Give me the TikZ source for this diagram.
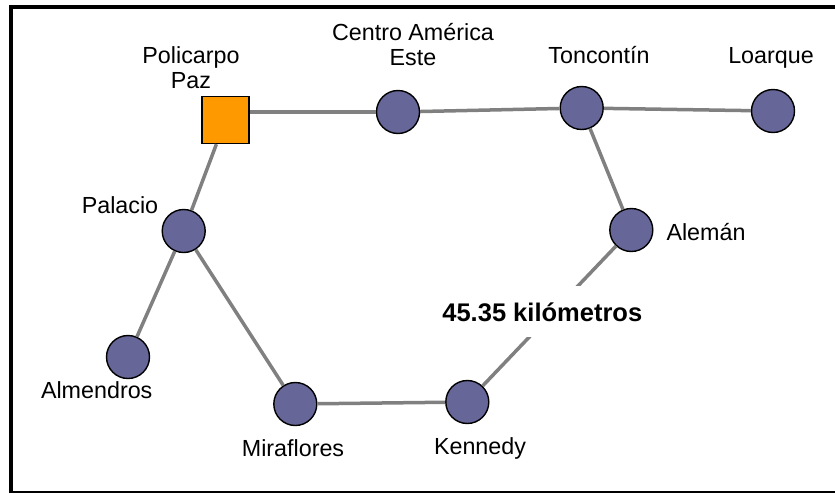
\documentclass[tikz,border=0pt]{standalone}
\usepackage{fontspec}
\setmainfont{Liberation Sans}
\usepackage{xcolor}
\usetikzlibrary{positioning}
\definecolor{StopBlue}{RGB}{102,102,153}
\definecolor{StopOrange}{RGB}{255,153,0}
\tikzset{%
	roundnode/.style={circle, draw=black, line width=1.4pt, fill=StopBlue, minimum size=43pt, inner sep=0pt},
	squarenode/.style={rectangle, draw=black, line width=1.4pt, fill=StopOrange, minimum size=47pt, inner sep=0pt},
	pt/.style={draw=gray, line width=3.5pt},
	lbl/.style={font=\fontsize{23.3}{25}\selectfont, inner sep=0pt, align=center, anchor=base},
	distlbl/.style={font=\bfseries\fontsize{25.5}{28}\selectfont, fill=white, inner xsep=4pt, inner ysep=0pt, minimum height=51pt}
}

\begin{document}
\begin{tikzpicture}[x=1pt, y=-1pt]
			\useasboundingbox (0,0) rectangle (835,493);
			% frame
			\draw[line width=4.5pt] (11,493) -- (11,7) -- (835,7);
			\draw[line width=1.5pt] (11,492) -- (835,492);

			\node[squarenode] (policarpo) at (225.5,120) {};
			\node[roundnode] (centro) at (398,112) {};
			\node[roundnode] (toncontin) at (581.7,108) {};
			\node[roundnode] (loarque) at (773,111) {};
			\node[roundnode] (aleman) at (631.3,230) {};
			\node[roundnode] (kennedy) at (467.3,402) {};
			\node[roundnode] (miraflores) at (295.3,404) {};
			\node[roundnode] (palacio) at (183.7,231) {};
			\node[roundnode] (almendros) at (128,357) {};

			\node[lbl] (policarpo-l) at (191,88) {Policarpo\\Paz};
			\node[lbl] (centro-l) at (413,65) {Centro América\\Este};
			\node[lbl] (toncontin-l) at (599,63) {Toncontín};
			\node[lbl] (loarque-l) at (771,63) {Loarque};
			\node[lbl] (aleman-l) at (706,240) {Alemán};
			\node[lbl] (kennedy-l) at (480,454) {Kennedy};
			\node[lbl] (miraflores-l) at (293,456) {Miraflores};
			\node[lbl] (palacio-l) at (120,213) {Palacio};
			\node[lbl] (almendros-l) at (96.7,398) {Almendros};

			\path[pt] (policarpo.east |- centro) -- (centro);
			\path[pt] (centro) -- (toncontin);
			\path[pt] (toncontin) -- (loarque);
			\path[pt] (toncontin) -- (aleman);
			\path[pt] (aleman) -- node[distlbl, pos=0.47, xshift=-11pt] (dist) {45.35 kilómetros} (kennedy);
			\path[pt] (kennedy) -- (miraflores);
			\path[pt] (miraflores) -- (palacio);
			\path[pt] (palacio) -- (almendros);
			\path[pt] (palacio) -- (policarpo);
\end{tikzpicture}
\end{document}
